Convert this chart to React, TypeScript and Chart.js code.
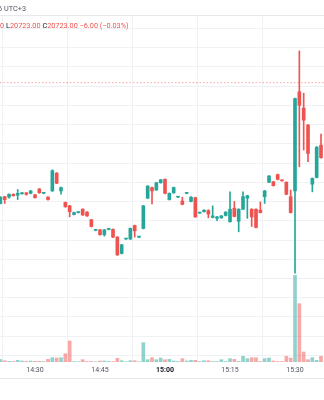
import React, { useEffect, useRef } from "react";
import { Chart, registerables } from "chart.js";

Chart.register(...registerables);

// ---- data (1-minute bars) ----
const times = [
  "14:22", "14:23", "14:24", "14:25", "14:26", "14:27", "14:28", "14:29", "14:30", "14:31",
  "14:32", "14:33", "14:34", "14:35", "14:36", "14:37", "14:38", "14:39", "14:40", "14:41",
  "14:42", "14:43", "14:44", "14:45", "14:46", "14:47", "14:48", "14:49", "14:50", "14:51",
  "14:52", "14:53", "14:54", "14:55", "14:56", "14:57", "14:58", "14:59", "15:00", "15:01",
  "15:02", "15:03", "15:04", "15:05", "15:06", "15:07", "15:08", "15:09", "15:10", "15:11",
  "15:12", "15:13", "15:14", "15:15", "15:16", "15:17", "15:18", "15:19", "15:20", "15:21",
  "15:22", "15:23", "15:24", "15:25", "15:26", "15:27", "15:28", "15:29", "15:30", "15:31",
  "15:32", "15:33", "15:34", "15:35", "15:36",
];

const opens = [
  20659.0, 20662.5, 20662.25, 20663.75, 20663.25, 20664.0, 20664.5, 20664.25, 20663.5, 20666.5,
  20664.25, 20662.25, 20665.5, 20674.75, 20665.5, 20659.5, 20657.75, 20653.25, 20654.25, 20656.0,
  20654.5, 20650.5, 20645.0, 20645.25, 20642.75, 20645.5, 20645.5, 20641.5, 20633.0, 20640.5,
  20640.5, 20647.5, 20641.5, 20646.0, 20661.75, 20667.25, 20666.0, 20669.75, 20671.5, 20661.0,
  20664.5, 20662.25, 20660.25, 20664.25, 20660.0, 20662.0, 20654.0, 20654.75, 20655.25, 20651.75,
  20651.25, 20651.5, 20652.75, 20649.5, 20656.5, 20649.75, 20656.0, 20661.75, 20656.0, 20656.0,
  20655.5, 20662.5, 20670.0, 20670.25, 20674.0, 20671.0, 20670.0, 20662.5, 20665.5, 20717.0,
  20708.5, 20699.75, 20669.0, 20672.5, 20689.25,
];

const highs = [
  20662.5, 20662.75, 20664.0, 20664.0, 20666.25, 20664.75, 20664.75, 20665.75, 20663.75, 20666.75,
  20664.75, 20662.5, 20676.5, 20675.0, 20667.5, 20659.75, 20658.0, 20654.5, 20654.5, 20656.25,
  20654.75, 20650.75, 20645.25, 20645.5, 20645.5, 20645.75, 20645.75, 20641.75, 20637.75, 20640.75,
  20646.25, 20647.75, 20641.75, 20658.0, 20668.25, 20667.5, 20670.0, 20671.5, 20671.75, 20664.5,
  20667.5, 20662.5, 20662.25, 20664.5, 20662.5, 20662.25, 20654.25, 20655.75, 20655.75, 20657.75,
  20652.25, 20652.75, 20654.75, 20665.0, 20660.0, 20656.25, 20665.0, 20663.25, 20656.25, 20656.25,
  20659.75, 20665.75, 20673.5, 20670.5, 20674.25, 20671.25, 20670.25, 20666.0, 20713.75, 20738.25,
  20716.25, 20700.0, 20672.25, 20688.5, 20695.0,
];

const lows = [
  20658.75, 20659.0, 20661.75, 20662.75, 20661.0, 20663.75, 20663.25, 20664.0, 20661.75, 20664.25,
  20664.0, 20660.75, 20665.25, 20669.25, 20663.75, 20657.0, 20652.0, 20653.0, 20654.0, 20652.75,
  20652.25, 20646.75, 20644.75, 20642.5, 20642.0, 20645.25, 20641.25, 20632.0, 20632.75, 20640.25,
  20640.25, 20641.5, 20641.25, 20645.75, 20661.5, 20658.75, 20665.75, 20669.5, 20664.0, 20660.75,
  20664.25, 20662.0, 20658.25, 20664.0, 20659.75, 20651.75, 20653.75, 20654.5, 20651.5, 20651.5,
  20650.0, 20651.25, 20652.5, 20649.25, 20652.0, 20644.25, 20655.75, 20651.25, 20647.0, 20646.25,
  20654.0, 20659.0, 20669.75, 20668.0, 20671.25, 20670.5, 20663.5, 20654.0, 20622.75, 20678.0,
  20686.75, 20680.75, 20665.0, 20672.25, 20682.5,
];

const closes = [
  20662.25, 20661.0, 20663.75, 20663.0, 20664.25, 20664.5, 20663.75, 20665.5, 20662.0, 20664.5,
  20664.25, 20661.0, 20676.0, 20669.5, 20667.25, 20657.25, 20654.75, 20654.25, 20654.25, 20653.0,
  20652.5, 20647.0, 20645.0, 20642.75, 20645.25, 20645.5, 20641.5, 20632.25, 20637.5, 20640.5,
  20646.0, 20644.75, 20641.5, 20657.75, 20668.0, 20665.5, 20669.75, 20671.25, 20664.25, 20664.25,
  20667.25, 20662.25, 20658.5, 20664.25, 20662.25, 20652.0, 20654.0, 20655.5, 20653.5, 20652.5,
  20652.0, 20652.5, 20654.5, 20656.0, 20652.25, 20656.0, 20662.5, 20663.0, 20652.0, 20646.5,
  20654.25, 20665.5, 20673.25, 20668.25, 20671.5, 20670.75, 20663.75, 20654.25, 20713.5, 20710.0,
  20702.25, 20685.0, 20672.0, 20688.25, 20682.75,
];

const volumes = [
  125, 65, 35, 25, 85, 50, 35, 50, 35, 35,
  25, 135, 215, 200, 215, 415, 1050, 25, 15, 115,
  25, 25, 15, 50, 50, 25, 25, 185, 65, 15,
  65, 65, 15, 965, 115, 215, 115, 200, 115, 135,
  50, 25, 165, 50, 85, 85, 25, 65, 65, 25,
  25, 115, 25, 165, 135, 25, 285, 165, 215, 215,
  25, 165, 200, 50, 25, 25, 285, 200, 4335, 2915,
  500, 115, 215, 85, 285,
];

const referencePrice = 20721.75;
const visiblePriceRange = [20576.62, 20756.37];
const visibleMinuteRange = [21.92, 96.69]; // minutes after 14:00
const volumeAxisMax = 17300;
const priceStep = 10;
const timeStep = 15;

const UP = "#26a69a";
const DOWN = "#ef5350";
const UP_VOL = "rgba(38,166,154,0.5)";
const DOWN_VOL = "rgba(239,83,80,0.5)";
const GRID = "#eff1f5";
const FONT = "Roboto, 'Noto Sans', sans-serif";

const toMinutes = (s: string) => {
  const [h, m] = s.split(":").map(Number);
  return (h - 14) * 60 + m;
};
const fmtMinutes = (v: number) => {
  const h = 14 + Math.floor(v / 60);
  const m = Math.round(v % 60);
  return `${h}:${m < 10 ? "0" + m : m}`;
};

function CandleChart() {
  const ref = useRef<HTMLCanvasElement | null>(null);
  useEffect(() => {
    if (!ref.current) return;
    const xs = times.map(toMinutes);
    const up = closes.map((c, i) => c >= opens[i]);
    const candleColors = up.map((u) => (u ? UP : DOWN));
    const volColors = up.map((u) => (u ? UP_VOL : DOWN_VOL));
    const chart = new Chart(ref.current, {
      type: "bar",
      data: {
        datasets: [
          {
            type: "line",
            data: [
              { x: visibleMinuteRange[0], y: referencePrice },
              { x: visibleMinuteRange[1], y: referencePrice },
            ],
            borderColor: "rgba(239,83,80,0.5)",
            borderWidth: 1,
            borderDash: [1.5, 2],
            pointRadius: 0,
            yAxisID: "y",
            order: 4,
          } as any,
          {
            data: xs.map((x, i) => ({ x, y: volumes[i] })),
            backgroundColor: volColors,
            barThickness: 3,
            grouped: false,
            yAxisID: "yv",
            order: 3,
          } as any,
          {
            data: xs.map((x, i) => ({ x, y: [lows[i], highs[i]] })),
            backgroundColor: candleColors,
            barThickness: 1,
            grouped: false,
            yAxisID: "y",
            order: 2,
          } as any,
          {
            data: xs.map((x, i) => ({ x, y: [opens[i], closes[i]] })),
            backgroundColor: candleColors,
            barThickness: 3,
            minBarLength: 1,
            grouped: false,
            yAxisID: "y",
            order: 1,
          } as any,
        ],
      },
      options: {
        animation: false,
        responsive: true,
        maintainAspectRatio: false,
        layout: { padding: { top: 16, left: 0, right: 0, bottom: 0 } },
        plugins: { legend: { display: false }, tooltip: { enabled: false } },
        scales: {
          x: {
            type: "linear",
            min: visibleMinuteRange[0],
            max: visibleMinuteRange[1],
            offset: false,
            grid: { color: GRID, drawTicks: false },
            border: { display: false },
            ticks: {
              stepSize: timeStep,
              includeBounds: false,
              autoSkip: false,
              maxRotation: 0,
              padding: 4,
              color: (ctx: any) => (ctx.tick && ctx.tick.value % 60 === 0 ? "#131722" : "#50535e"),
              font: (ctx: any) => ({
                family: FONT,
                size: 7,
                weight: ctx.tick && ctx.tick.value % 60 === 0 ? "bold" : "normal",
              }),
              callback: (v: any) => fmtMinutes(Number(v)),
            },
            afterFit: (s: any) => {
              s.height = 38;
            },
          } as any,
          y: {
            position: "right",
            min: visiblePriceRange[0],
            max: visiblePriceRange[1],
            grid: { color: GRID, drawTicks: false },
            border: { display: false },
            ticks: { display: false, stepSize: priceStep, includeBounds: false },
            afterFit: (s: any) => {
              s.width = 0;
            },
          } as any,
          yv: { display: false, min: 0, max: volumeAxisMax },
        },
      },
    });
    return () => chart.destroy();
  }, []);
  return <canvas ref={ref} />;
}

export default function App() {
  const txt: React.CSSProperties = {
    position: "absolute",
    fontFamily: FONT,
    fontSize: 7.3,
    lineHeight: "9px",
    whiteSpace: "nowrap",
  };
  return (
    <div
      style={{
        position: "fixed",
        left: 0,
        top: 0,
        width: 324,
        height: 400,
        background: "#fff",
        overflow: "hidden",
      }}
    >
      <div style={{ position: "absolute", inset: 0 }}>
        <CandleChart />
      </div>
      <div style={{ position: "absolute", left: 0, right: 0, top: 15, height: 1, background: "#e6e8ee" }} />
      <div style={{ position: "absolute", left: 0, right: 0, top: 378, height: 1, background: "#e6e8ee" }} />
      <div style={{ ...txt, right: 298, top: 4, color: "#50535e", textAlign: "right" }}>
        TradingView.com, Dec 11, 2024 15:36 UTC+3
      </div>
      <div style={{ ...txt, right: 320, top: 20.5, color: "#ef5350", textAlign: "right" }}>
        <span style={{ color: "#131722" }}>O</span>20729.00 <span style={{ color: "#131722" }}>H</span>20729.00
      </div>
      <div style={{ ...txt, left: 6, top: 20.5, color: "#ef5350" }}>
        <span style={{ color: "#131722" }}>L</span>20723.00 <span style={{ color: "#131722" }}>C</span>20723.00 −6.00 (−0.03%)
      </div>
    </div>
  );
}
